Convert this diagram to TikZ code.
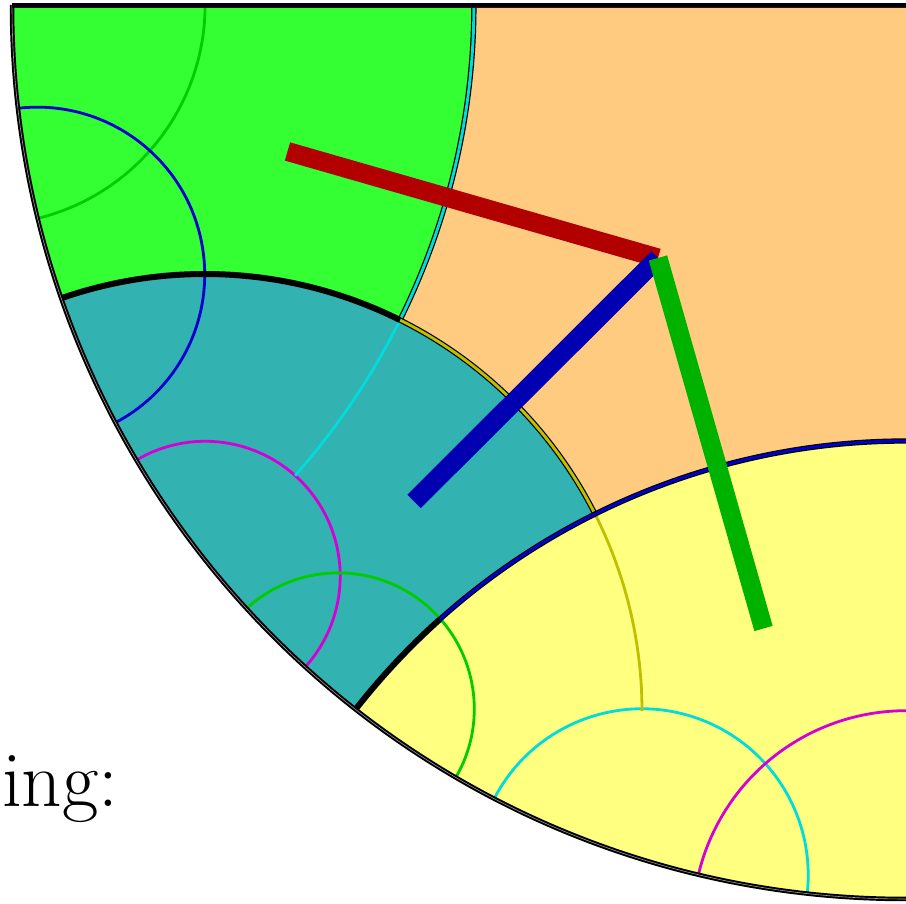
\documentclass[tikz,border=0pt]{standalone}
\definecolor{fgreen}{RGB}{51,255,51}
\definecolor{forange}{RGB}{255,203,128}
\definecolor{fteal}{RGB}{51,178,178}
\definecolor{fyellow}{RGB}{255,255,128}
\definecolor{lgreen}{RGB}{0,204,0}
\definecolor{lblue}{RGB}{0,0,204}
\definecolor{lmag}{RGB}{214,0,214}
\definecolor{lcyan}{RGB}{0,220,220}
\definecolor{lolive}{RGB}{191,191,0}
\definecolor{bred}{RGB}{178,0,0}
\definecolor{bblue}{RGB}{0,0,178}
\definecolor{bgreen}{RGB}{0,178,0}
\definecolor{purpdark}{RGB}{60,0,60}
\tikzset{
  geo/.style={line width=2.8pt, draw=#1},
  dbl/.style={draw=black, line width=1.2pt, double=#1, double distance=2.9pt},
  thickb/.style={draw=black, line width=6pt},
  bar/.style={draw=#1, line width=19pt, line cap=butt},
}
\begin{document}
\begin{tikzpicture}[x=1pt,y=1pt]
\useasboundingbox (0,0) rectangle (906,904);
\fill[white] (0,0) rectangle (906,904);
\coordinate (O) at (906,899);
\coordinate (c1) at (204.8,192.8);
\coordinate (ccy) at (-234.8,899);
\coordinate (c2) at (906,-235.6);
\coordinate (ga) at (-14.6,899);
\coordinate (bb) at (37.3,629.4);
\coordinate (mt) at (205.2,327.7);
\coordinate (gl) at (338.3,195.1);
\coordinate (cy2) at (641.9,28.9);
\coordinate (my) at (906,-20.1);
\begin{scope}
  \clip (O) ++(180:894) arc[start angle=180,end angle=270,radius=894] -- (O) -- cycle;
  \fill[forange] (-300,-300) rectangle (1200,1200);
  \begin{scope}
    \clip (ccy) circle (708.7);
    \fill[fgreen, even odd rule] (-300,-300) rectangle (1200,1200) (c1) circle (437.2);
  \end{scope}
  \begin{scope}
    \clip (c1) circle (437.2);
    \fill[fteal, even odd rule] (-300,-300) rectangle (1200,1200) (c2) circle (698.6);
  \end{scope}
  \fill[fyellow] (c2) circle (698.6);
  % thin geodesics
  \draw[geo=lgreen] (ga) ++(2:219.7) arc[start angle=2,end angle=-80,radius=219.7];
  \draw[geo=lblue] (bb) ++(100:167.4) arc[start angle=100,end angle=-65,radius=167.4];
  \draw[geo=lmag] (mt) ++(125:135) arc[start angle=125,end angle=-47,radius=135];
  \draw[geo=lgreen] (gl) ++(137:136) arc[start angle=137,end angle=-35,radius=136];
  \draw[geo=lcyan] (cy2) ++(157:166.3) arc[start angle=157,end angle=-12,radius=166.3];
  \draw[geo=lmag] (my) ++(172:213.4) arc[start angle=172,end angle=60,radius=213.4];
  \draw[geo=lolive] (c1) ++(26.69:437.2) arc[start angle=26.69,end angle=0,radius=437.2];
  \draw[geo=lcyan] (ccy) ++(-26.39:708.7) arc[start angle=-26.39,end angle=-41.6,radius=708.7];
  % boundaries
  \draw[dbl=lcyan] (ccy) ++(1:708.7) arc[start angle=1,end angle=-26.39,radius=708.7];
  \draw[dbl=lolive] (c1) ++(63.48:437.2) arc[start angle=63.48,end angle=26.69,radius=437.2];
  \draw[dbl=lblue] (c2) ++(85:698.6) arc[start angle=85,end angle=131.88,radius=698.6];
  \draw[thickb] (c1) ++(112:437.2) arc[start angle=112,end angle=63.48,radius=437.2];
  \draw[thickb] (c2) ++(131.88:698.6) arc[start angle=131.88,end angle=145,radius=698.6];
\end{scope}
% disk boundary
\draw[line width=4.5pt, black] (O) ++(180:894) arc[start angle=180,end angle=270,radius=894];
\draw[line width=0.6pt, black!40] (O) ++(180:894) arc[start angle=180,end angle=270,radius=894];
\coordinate (tl) at (12,898.5);
\coordinate (tr) at (906,898.5);
\draw[line width=5pt, black] (tl) -- (tr);
\coordinate (tl2) at (14,896.6);
\coordinate (tr2) at (906,896.6);
\draw[line width=1.3pt, purpdark] (tl2) -- (tr2);
% bars
\coordinate (J) at (658,646);
\coordinate (rA) at (287.5,752.5);
\coordinate (bA) at (414,402.5);
\coordinate (gA) at (763.5,275.5);
\draw[bar=bred] (rA) -- (J);
\draw[bar=bblue] (bA) -- (J);
\draw[bar=bgreen] (J) -- (gA);
% text
\node[anchor=base west, inner sep=0pt, font=\fontsize{79}{84}\selectfont] (lbl) at (2,97) {ing:};
\end{tikzpicture}
\end{document}
